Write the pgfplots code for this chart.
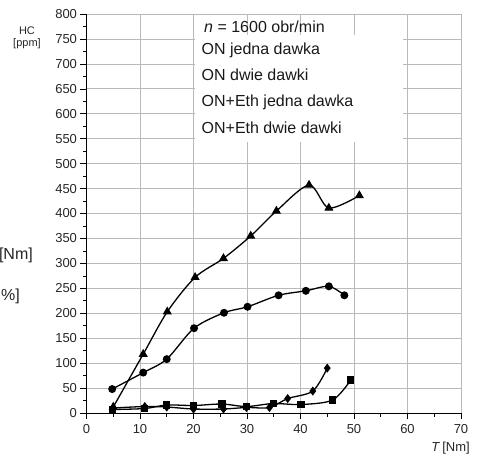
\documentclass[border=0pt]{standalone}
\usepackage{fontspec}
\setmainfont{Liberation Sans}
\usepackage{pgfplots}
\pgfplotsset{compat=1.18}
\begin{document}
\begin{tikzpicture}[x=1pt,y=1pt]
\useasboundingbox (0,0) rectangle (479,459);
\begin{axis}[
  at={(86.5pt,46pt)}, anchor=south west,
  scale only axis, width=374.5pt, height=399pt,
  xmin=0, xmax=70, ymin=0, ymax=800,
  xtick={0,10,...,70}, minor x tick num=1,
  ytick={0,50,...,800}, minor y tick num=1,
  axis x line*=bottom, axis y line*=left,
  axis line style={black, line width=0.8pt, -},
  grid=major, major grid style={gray!55, line width=0.7pt},
  tick align=outside, major tick length=6pt, minor tick length=3.5pt,
  tick style={black, line width=0.6pt},
  /pgf/number format/assume math mode=true,
  /pgf/number format/1000 sep={},
  ticklabel style={font=\fontsize{13}{15}\selectfont, text=black!85},
  xticklabel style={yshift=-2pt},
  clip=false,
]
\addplot[black, line width=1.3pt, smooth, tension=0.5, mark=triangle*, mark size=4pt, mark options={solid, fill=black}] coordinates {
 (5,12) (10.6,118) (15.1,203) (20.3,272) (25.6,310) (30.7,355) (35.5,405) (41.6,457) (45.3,411) (51,436)};
\addplot[black, line width=1.3pt, smooth, tension=0.5, mark=*, mark size=3.3pt, mark options={solid, fill=black}] coordinates {
 (4.8,48) (10.6,81) (15,108) (20.1,170) (25.7,201) (30.1,213) (35.9,236) (41,245) (45.3,254) (48.2,236)};
\addplot[black, line width=1.3pt, smooth, tension=0.5, mark=square*, mark size=3pt, mark options={solid, fill=black}] coordinates {
 (4.8,7) (10.9,9) (15,16) (20,15) (25.3,18) (29.9,13) (34.9,19) (40.1,17) (46,26) (49.4,66)};
\addplot[black, line width=1.3pt, smooth, tension=0.5, mark=diamond*, mark size=3.5pt, mark options={solid, fill=black}] coordinates {
 (5,10) (10.9,13) (15,12) (20,8) (25.6,8) (29.9,11) (34.2,11) (37.6,29) (42.3,44) (45,90)};
\end{axis}
\fill[white] (195,317) rectangle (403,424);
\begin{scope}[every node/.style={anchor=base west, inner sep=0pt, font=\fontsize{16}{18}\selectfont, text=black!90}]
\node at (204,426) {\textit{n} = 1600 obr/min};
\node at (201.5,404.7) {ON jedna dawka};
\node at (201.5,378) {ON dwie dawki};
\node at (201.5,352.3) {ON+Eth jedna dawka};
\node at (201.5,325.7) {ON+Eth dwie dawki};
\end{scope}
\node[anchor=center, font=\fontsize{11}{13}\selectfont, text=black!85, align=center] at (27,421) {HC\\[-1pt][ppm]};
\node[anchor=base east, inner sep=0pt, font=\fontsize{13}{15}\selectfont, text=black!85] at (470,8) {\textit{T}\,[Nm]};
\node[anchor=base east, inner sep=0pt, font=\fontsize{16}{18}\selectfont, text=black!85] at (33,200) {[Nm]};
\node[anchor=base east, inner sep=0pt, font=\fontsize{16}{18}\selectfont, text=black!85] at (20,159) {\%]};
\end{tikzpicture}
\end{document}
